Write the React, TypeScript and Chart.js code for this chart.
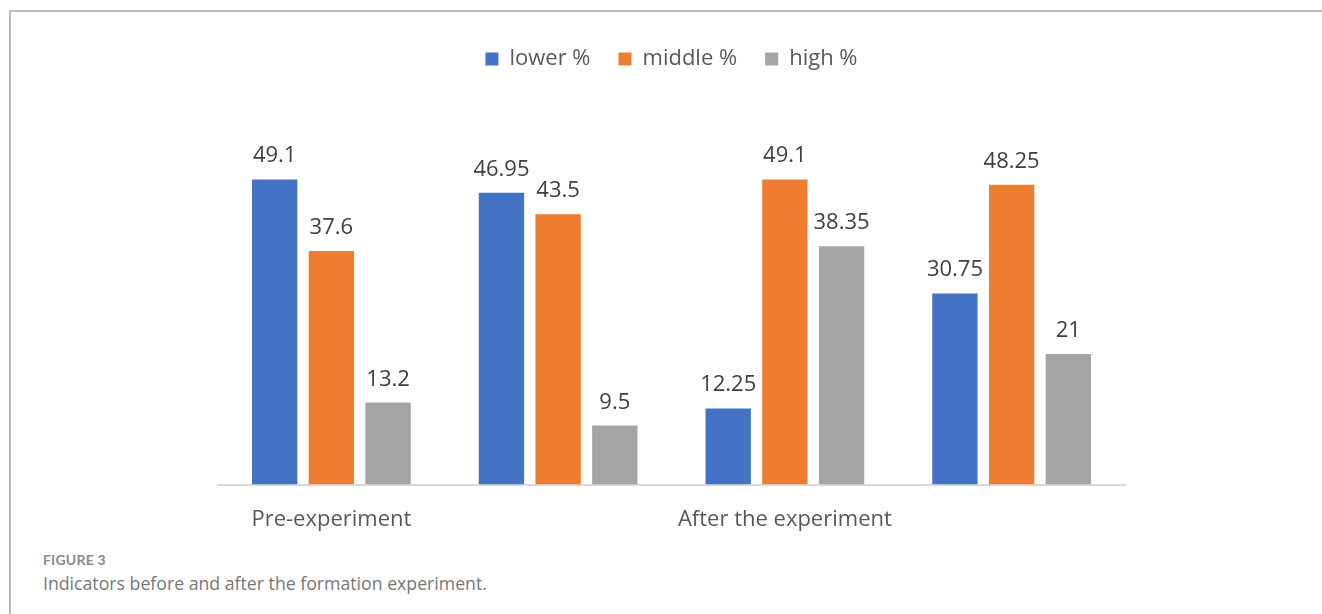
import React, { useEffect, useRef } from "react";
import { Chart, registerables } from "chart.js";

Chart.register(...registerables);

const categories = ["Pre-experiment", "", "After the experiment", ""];
const lowerValues = [49.1, 46.95, 12.25, 30.75];
const middleValues = [37.6, 43.5, 49.1, 48.25];
const highValues = [13.2, 9.5, 38.35, 21];
const seriesNames = ["lower %", "middle %", "high %"];
const seriesColors = ["#4472C4", "#ED7D31", "#A5A5A5"];

const FONT = "'Open Sans', 'Noto Sans', sans-serif";

const valueLabels = {
  id: "valueLabels",
  afterDatasetsDraw(chart: any) {
    const ctx = chart.ctx;
    ctx.save();
    ctx.font = `22px ${FONT}`;
    ctx.fillStyle = "#404040";
    ctx.textAlign = "center";
    ctx.textBaseline = "alphabetic";
    chart.data.datasets.forEach((ds: any, i: number) => {
      const meta = chart.getDatasetMeta(i);
      meta.data.forEach((el: any, j: number) => {
        ctx.fillText(String(ds.data[j]), el.x, el.y - 17);
      });
    });
    ctx.restore();
  },
};

export default function App() {
  const ref = useRef<HTMLCanvasElement>(null);
  useEffect(() => {
    document.body.style.margin = "0";
    const chart = new Chart(ref.current!, {
      type: "bar",
      data: {
        labels: categories,
        datasets: [lowerValues, middleValues, highValues].map((d, i) => ({
          label: seriesNames[i],
          data: d,
          backgroundColor: seriesColors[i],
          borderWidth: 0,
          categoryPercentage: 0.75,
          barPercentage: 0.8,
        })),
      },
      options: {
        responsive: false,
        animation: false,
        layout: { padding: { left: 218, right: 197, top: 20, bottom: 0 } },
        plugins: {
          legend: {
            position: "top",
            labels: {
              font: { family: FONT, size: 22 },
              color: "#595959",
              boxWidth: 13,
              boxHeight: 13,
              padding: 28,
            },
          },
          tooltip: { enabled: false },
        },
        scales: {
          x: {
            grid: { display: false },
            border: { display: true, color: "#D9D9D9", width: 2 },
            ticks: {
              font: { family: FONT, size: 22 },
              color: "#595959",
              padding: 14,
              maxRotation: 0,
              autoSkip: false,
            },
          },
          y: {
            display: false,
            min: 0,
            max: 65.1,
          },
        },
      },
      plugins: [valueLabels],
    });
    return () => chart.destroy();
  }, []);

  return (
    <div style={{ position: "relative", width: 1322, height: 614, background: "#fff", overflow: "hidden" }}>
      <div
        style={{
          position: "absolute",
          left: 9,
          top: 10,
          width: 1320,
          height: 620,
          borderTop: "2px solid #BDBDBD",
          borderLeft: "2px solid #BDBDBD",
        }}
      />
      <canvas ref={ref} width={1322} height={547} style={{ position: "absolute", left: 0, top: 0 }} />
      <div
        style={{
          position: "absolute",
          left: 43,
          top: 551,
          fontFamily: "Lato, 'Open Sans', sans-serif",
          fontSize: 14,
          fontWeight: 700,
          color: "#8A8A8A",
          letterSpacing: 0.2,
        }}
      >
        FIGURE 3
      </div>
      <div
        style={{
          position: "absolute",
          left: 43,
          top: 571,
          fontFamily: "'Open Sans', sans-serif",
          fontSize: 17.7,
          color: "#777777",
        }}
      >
        Indicators before and after the formation experiment.
      </div>
    </div>
  );
}
